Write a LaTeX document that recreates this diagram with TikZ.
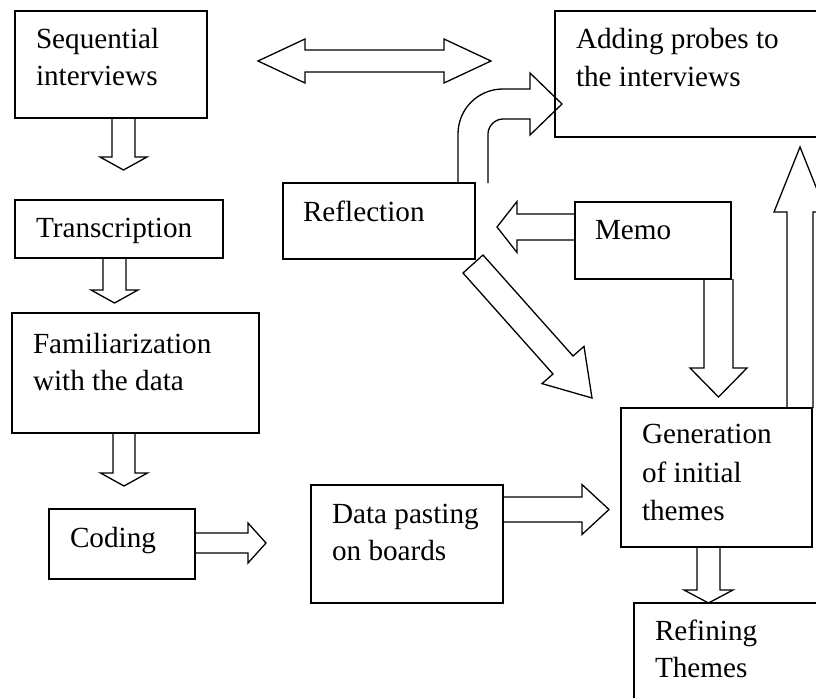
\documentclass[tikz,border=0pt]{standalone}
\usepackage{fontspec}
\setmainfont{Liberation Serif}
\usetikzlibrary{calc}
\tikzset{
  box/.style={draw, line width=1.3pt, rectangle, inner sep=0pt, outer sep=0pt, anchor=north west},
  blk/.style={draw, line width=1.3pt, line join=miter},
  lbl/.style={font=\fontsize{29.2}{37.5}\selectfont, inner sep=0pt, outer sep=0pt, anchor=base west},
}
% down/up block arrow: #1 anchor, #2 x offset of shaft centre, #3 shaft length, #4 head length, #5 shaft half width, #6 head half width
\newcommand{\blkdn}[6]{%
  \draw[blk] ($(#1)+({#2-#5},0)$) -- ++(0,{#3}) -- ++({#5-#6},0) -- ++({#6},{#4}) -- ++({#6},{-1*(#4)}) -- ++({#5-#6},0) -- ++(0,{-1*(#3)});}
% left/right block arrow: #1 anchor, #2 y offset of shaft centre, #3 shaft length, #4 head length, #5 shaft half, #6 head half
\newcommand{\blkhz}[6]{%
  \draw[blk] ($(#1)+(0,{#2-#5})$) -- ++({#3},0) -- ++(0,{#5-#6}) -- ++({#4},{#6}) -- ++({-1*(#4)},{#6}) -- ++(0,{#5-#6}) -- ++({-1*(#3)},0);}
\begin{document}
\begin{tikzpicture}[x=1pt,y=-1pt]
\useasboundingbox (0,0) rectangle (816,698);
\clip (0,0) rectangle (816,698);

% boxes
\node[box, minimum width=192pt, minimum height=107pt] (seq) at (15,11) {};
\node[box, minimum width=208pt, minimum height=58pt]  (trans) at (15,200) {};
\node[box, minimum width=247pt, minimum height=120pt] (fam) at (12,313) {};
\node[box, minimum width=146pt, minimum height=70pt]  (coding) at (49,509) {};
\node[box, minimum width=192pt, minimum height=118pt] (data) at (311,485) {};
\node[box, minimum width=192pt, minimum height=76pt]  (refl) at (283,183) {};
\node[box, minimum width=156pt, minimum height=77pt]  (memo) at (575,202) {};
\node[box, minimum width=280pt, minimum height=126pt] (adding) at (555,11) {};
\node[box, minimum width=191pt, minimum height=139pt] (gen) at (621,408) {};
\node[box, minimum width=200pt, minimum height=120pt] (refine) at (634,603) {};

% texts
\node[lbl] (seqA) at ($(seq.north west)+(21,37.5)$) {Sequential};
\node[lbl] (seqB) at ($(seq.north west)+(21,75)$) {interviews};
\node[lbl] (transA) at ($(trans.north west)+(21,37.5)$) {Transcription};
\node[lbl] (famA) at ($(fam.north west)+(21,40)$) {Familiarization};
\node[lbl] (famB) at ($(fam.north west)+(21,77.5)$) {with the data};
\node[lbl] (codA) at ($(coding.north west)+(21,38)$) {Coding};
\node[lbl] (dataA) at ($(data.north west)+(21,38)$) {Data pasting};
\node[lbl] (dataB) at ($(data.north west)+(21,75.5)$) {on boards};
\node[lbl] (reflA) at ($(refl.north west)+(20,38)$) {Reflection};
\node[lbl] (memoA) at ($(memo.north west)+(20,37)$) {Memo};
\node[lbl] (addA) at ($(adding.north west)+(21,37.5)$) {Adding probes to};
\node[lbl] (addB) at ($(adding.north west)+(21,76)$) {the interviews};
\node[lbl] (genA) at ($(gen.north west)+(21,35.5)$) {Generation};
\node[lbl] (genB) at ($(gen.north west)+(21,74)$) {of initial};
\node[lbl] (genC) at ($(gen.north west)+(21,112)$) {themes};
\node[lbl] (refA) at ($(refine.north west)+(21,37.5)$) {Refining};
\node[lbl] (refB) at ($(refine.north west)+(21,74.5)$) {Themes};

% block arrows
\blkdn{seq.south}{12.5}{39}{13}{11.5}{23.5}
\blkdn{trans.south}{-4.5}{32}{13}{11.5}{23.5}
\blkdn{fam.south}{-11.5}{40}{13}{11}{23.5}
\blkhz{coding.east}{-1}{53}{18}{10}{20}
\blkhz{data.east}{-34.5}{79}{27}{12.5}{25}
\blkhz{memo.west}{-13.5}{-58}{-20}{13}{25.5}
\blkdn{memo.south}{65.5}{89}{29}{14.5}{28.5}
\blkdn{gen.north}{83.5}{-196}{-65}{13}{26}
\blkdn{gen.south}{-8}{43}{13}{11.5}{24.5}

% double-headed arrow between the interview boxes
\coordinate (dbl) at (374.5,61);
\draw[blk] ($(dbl)+(-116.5,0)$) -- ++(47,-22) -- ++(0,11) -- ++(139,0) -- ++(0,-11)
  -- ++(47,22) -- ++(-47,22) -- ++(0,-11) -- ++(-139,0) -- ++(0,11) -- cycle;

% curved arrow from Reflection to Adding probes
\draw[blk] ($(refl.north)+(79,0)$) -- (458,134) .. controls (458,109) and (478,89) .. (503,89)
  -- (530,89) -- (530,73) -- (562,104) -- (530,135) -- (530,119) -- (503,119)
  .. controls (495,119) and (488,126) .. (488,134) -- ($(refl.north)+(109,0)$);

% diagonal arrow from Reflection toward Generation
\draw[blk] (463,273) -- (553,374) -- (542,383.6) -- (592,398) -- (584,346.4) -- (573,356) -- (483,255) -- cycle;
\end{tikzpicture}
\end{document}
